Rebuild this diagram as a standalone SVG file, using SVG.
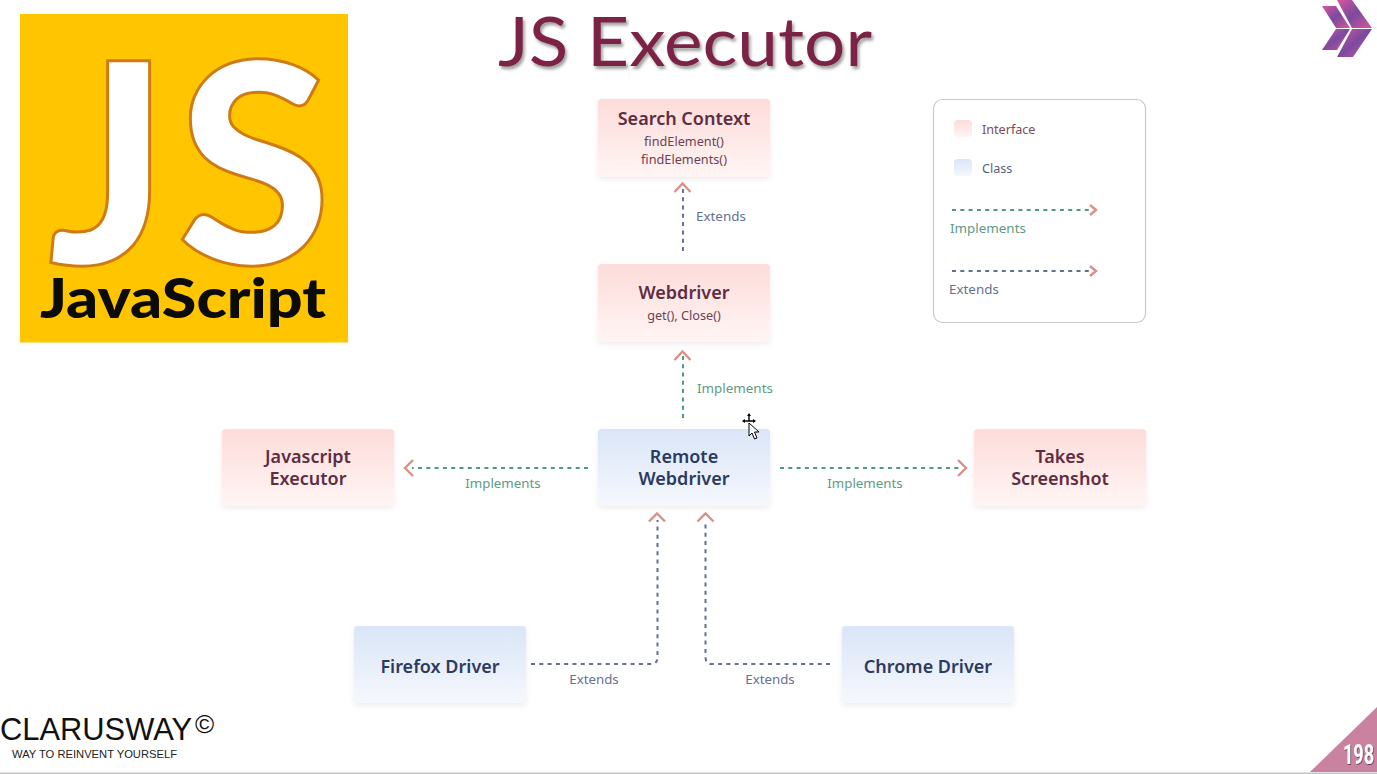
<svg xmlns="http://www.w3.org/2000/svg" width="1377" height="774" viewBox="0 0 1377 774">
<style>
text{font-family:"Noto Sans","Open Sans","Liberation Sans",sans-serif}
.t{font-size:18px;font-weight:600;text-anchor:middle}
.pk{fill:#5e2d42}.bl{fill:#2c3a60}
.s{font-size:13.3px;text-anchor:middle}
.m{font-size:12.7px;text-anchor:middle;fill:#6e4254}
.l{font-size:13.4px}
.k{font-size:12.6px}
.g{fill:#5f9a86}.e{fill:#66708f}
.cg{fill:none;stroke:#4f9a86;stroke-width:2;stroke-dasharray:4 4.300}
.ce{fill:none;stroke:#636f94;stroke-width:2;stroke-dasharray:4 4.300}
.ah{fill:none;stroke:#dc8f88;stroke-width:2.400}
.bx{filter:url(#bs)}
.lg{font-weight:900;fill:#fff;stroke:#cf7a12;stroke-width:3;font-family:Lato,"Open Sans",sans-serif}
</style>
<defs>
<linearGradient id="p" x1="0" y1="0" x2="0" y2="1"><stop offset="0" stop-color="#fddcda"/><stop offset="1" stop-color="#fff5f4"/></linearGradient>
<linearGradient id="b" x1="0" y1="0" x2="0" y2="1"><stop offset="0" stop-color="#dae5f7"/><stop offset="1" stop-color="#f5f8fd"/></linearGradient>
<linearGradient id="chev" x1="0" y1="0" x2="1" y2="1"><stop offset="0" stop-color="#d8559a"/><stop offset="0.5" stop-color="#7a4aa0"/><stop offset="1" stop-color="#d8559a"/></linearGradient>
<filter id="bs" x="-5%" y="-10%" width="110%" height="125%"><feDropShadow dx="0" dy="2" stdDeviation="2.500" flood-color="#c8b8c0" flood-opacity="0.3"/></filter>
<filter id="ts" x="-5%" y="-5%" width="110%" height="120%"><feDropShadow dx="2" dy="3" stdDeviation="1.600" flood-color="#555" flood-opacity="0.55"/></filter>
<filter id="ns" x="-5%" y="-5%" width="110%" height="110%"><feDropShadow dx="1" dy="1" stdDeviation="0.500" flood-color="#3a2030" flood-opacity="0.7"/></filter>
</defs>
<rect width="1377" height="774" fill="#fff"/>
<rect y="772.500" width="1377" height="1.500" fill="#c4c4c4"/>

<g id="logo">
<rect x="20" y="14" width="328" height="328.500" fill="#ffc600"/>
<text class="lg" x="48" y="264" font-size="280">J</text>
<text class="lg" x="177" y="264" font-size="280">S</text>
<text x="40" y="318" font-size="55" font-weight="900" fill="#0b0b0b" style="font-family:Lato,'Open Sans',sans-serif" textLength="286" lengthAdjust="spacingAndGlyphs">JavaScript</text>
</g>
<g id="title"><text x="498" y="66" font-size="68" fill="#7b2446" filter="url(#ts)" style="font-family:Lato,'Open Sans',sans-serif" textLength="374" lengthAdjust="spacingAndGlyphs">JS Executor</text></g>

<g id="brand-mark">
<polygon points="1337,0 1352,0 1372,28 1352,28" fill="url(#chev)"/>
<polygon points="1352,29 1372,29 1353,57 1337,57" fill="url(#chev)"/>
<polygon points="1322,6 1336,6 1350,28 1336,28" fill="url(#chev)"/>
<polygon points="1336,29 1350,29 1337,50 1322,50" fill="url(#chev)"/>
</g>

<g id="connectors">
<path class="ce" d="M683 251V186"/><polyline class="ah" points="674.500,192 682.500,183.500 690.500,192"/>
<path class="cg" d="M683 418V352"/><polyline class="ah" points="674.500,360 682.500,351.500 690.500,360"/>
<path class="cg" d="M588 468H412"/><polyline class="ah" points="413,460 405,468 413,476"/>
<path class="cg" d="M780 468H960"/><polyline class="ah" points="958,460 966,468 958,476"/>
<path class="ce" d="M531 664H651Q657.500 664 657.500 657V520"/><polyline class="ah" points="649,521.500 657,513.500 665,521.500"/>
<path class="ce" d="M830 664H712Q705.500 664 705.500 657V520"/><polyline class="ah" points="697.500,521.500 705.500,513.500 713.500,521.500"/>
</g>

<g id="search-context"><rect class="bx" x="598" y="99" width="172" height="78" rx="4" fill="url(#p)"/>
<text class="t pk" x="684" y="125">Search Context</text>
<text class="m" x="684" y="146">findElement()</text><text class="m" x="684" y="164">findElements()</text></g>
<g id="webdriver"><rect class="bx" x="598" y="264" width="172" height="78" rx="4" fill="url(#p)"/>
<text class="t pk" x="684" y="299">Webdriver</text><text class="m" x="684" y="320">get(), Close()</text></g>
<g id="remote-webdriver"><rect class="bx" x="598" y="429" width="172" height="77" rx="4" fill="url(#b)"/>
<text class="t bl" x="684" y="463">Remote</text><text class="t bl" x="684" y="485">Webdriver</text></g>
<g id="javascript-executor"><rect class="bx" x="222" y="429" width="172" height="77" rx="4" fill="url(#p)"/>
<text class="t pk" x="308" y="463">Javascript</text><text class="t pk" x="308" y="485">Executor</text></g>
<g id="takes-screenshot"><rect class="bx" x="974" y="429" width="172" height="77" rx="4" fill="url(#p)"/>
<text class="t pk" x="1060" y="463">Takes</text><text class="t pk" x="1060" y="485">Screenshot</text></g>
<g id="firefox-driver"><rect class="bx" x="354" y="626" width="172" height="77" rx="4" fill="url(#b)"/>
<text class="t bl" x="440" y="673">Firefox Driver</text></g>
<g id="chrome-driver"><rect class="bx" x="842" y="626" width="172" height="77" rx="4" fill="url(#b)"/>
<text class="t bl" x="928" y="673">Chrome Driver</text></g>

<g id="edge-labels">
<text class="l e" x="696" y="221">Extends</text>
<text class="l g" x="697" y="393">Implements</text>
<text class="s g" x="503" y="488">Implements</text>
<text class="s g" x="865" y="488">Implements</text>
<text class="s e" x="594" y="684">Extends</text>
<text class="s e" x="770" y="684">Extends</text>
</g>

<g id="legend">
<rect x="933.500" y="99.500" width="212" height="223" rx="9" fill="#fff" stroke="#c9c9c9" stroke-width="1.200"/>
<rect x="954" y="120" width="18" height="17" rx="4" fill="url(#p)"/>
<text class="k" x="982" y="134" fill="#7a4a5c">Interface</text>
<rect x="954" y="159" width="18" height="17" rx="4" fill="url(#b)"/>
<text class="k" x="982" y="173" fill="#555f7c">Class</text>
<path class="cg" d="M952 210H1090"/><polyline class="ah" points="1090,205 1096,210 1090,215"/>
<text class="l g" x="950" y="233">Implements</text>
<path class="ce" d="M952 271H1090"/><polyline class="ah" points="1090,266 1096,271 1090,276"/>
<text class="l e" x="949" y="294">Extends</text>
</g>

<g id="cursor">
<path d="M749 414v7M743 421h12" stroke="#000" stroke-width="1.400" fill="none"/>
<path d="M747 416l2-3 2 3zM745 419l-3 2 3 2zM753 419l3 2-3 2z" fill="#000"/>
<path d="M749 423l0 13 3-3 2.500 6 2.500-1-2.500-6 4.500 0z" fill="#fff" stroke="#000"/>
</g>

<g id="footer">
<text x="0" y="740" font-size="30.500" fill="#111" style="font-family:'Liberation Sans',sans-serif" textLength="192" lengthAdjust="spacingAndGlyphs">CLARUSWAY</text>
<text x="195" y="733" font-size="26" fill="#111" style="font-family:'Liberation Sans',sans-serif">©</text>
<text x="12" y="758" font-size="11.500" fill="#222" style="font-family:'Liberation Sans',sans-serif" textLength="165" lengthAdjust="spacingAndGlyphs">WAY TO REINVENT YOURSELF</text>
<polygon points="1377,707 1377,772 1310,772" fill="#c9829f"/>
<text transform="translate(1343,764) scale(.67,1)" font-size="27" font-weight="700" fill="#fff" filter="url(#ns)" style="font-family:Roboto,sans-serif">198</text>
</g>
</svg>
